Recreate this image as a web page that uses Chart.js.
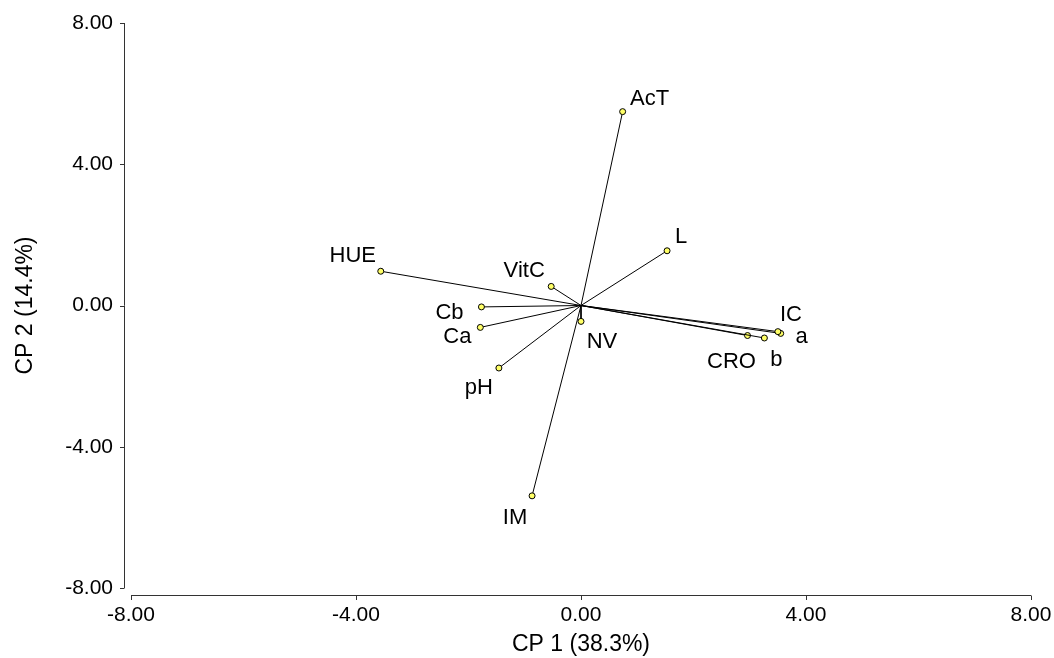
<!DOCTYPE html>
<html>
<head>
<meta charset="utf-8">
<script src="https://cdn.jsdelivr.net/npm/chart.js@4/dist/chart.umd.min.js"></script>
<style>
  html, body { margin: 0; padding: 0; background: #fff; }
  #wrap { width: 1054px; height: 658px; }
</style>
</head>
<body>
<div id="wrap"><canvas id="biplot"></canvas></div>
<script>
// variables (loadings on CP 1 / CP 2)
const varNames = ["AcT", "L", "HUE", "VitC", "Cb", "Ca", "pH", "NV", "IM", "IC", "a", "b", "CRO"];
const cp1 = [0.74, 1.53, -3.56, -0.53, -1.77, -1.79, -1.46, 0.00, -0.87, 3.50, 3.55, 3.26, 2.96];
const cp2 = [5.49, 1.55, 0.97, 0.54, -0.04, -0.62, -1.77, -0.45, -5.39, -0.74, -0.79, -0.92, -0.85];
const axisTicks = [-8, -4, 0, 4, 8];
const xTitle = "CP 1 (38.3%)";
const yTitle = "CP 2 (14.4%)";

// label placement relative to the point (px), same order as varNames
const labelOffsets = [
  [27, -7], [14, -8], [-28, -9], [-27, -9], [-32, 12], [-23, 16], [-20, 26],
  [21, 27], [-17, 28], [13, -11], [21, 10], [12, 28], [-16, 32]
];

const FONT = "'Liberation Sans', Arial, sans-serif";

/* ===================================
   DATASETS: one vector per variable
   =================================== */
const datasets = varNames.map((name, i) => ({
  label: name,
  data: [{ x: 0, y: 0 }, { x: cp1[i], y: cp2[i] }],
  showLine: true,
  borderColor: "#000",
  borderWidth: 1,
  pointRadius: [0, 3],
  pointBackgroundColor: "#ffff66",
  pointBorderColor: "#000",
  pointBorderWidth: 1,
}));

// detached axes with outside ticks
const detachedAxes = {
  id: "detachedAxes",
  afterDraw(chart) {
    const { ctx, chartArea, scales } = chart;
    const xs = scales.x, ys = scales.y;
    const ax = chartArea.left - 7;
    const ay = chartArea.bottom + 7;
    ctx.save();
    ctx.strokeStyle = "#333";
    ctx.lineWidth = 1;
    ctx.beginPath();
    ctx.moveTo(ax + 0.5, ys.getPixelForValue(axisTicks[axisTicks.length - 1]));
    ctx.lineTo(ax + 0.5, ys.getPixelForValue(axisTicks[0]));
    axisTicks.forEach(t => {
      const py = Math.round(ys.getPixelForValue(t)) + 0.5;
      ctx.moveTo(ax - 4, py);
      ctx.lineTo(ax + 0.5, py);
    });
    ctx.moveTo(xs.getPixelForValue(axisTicks[0]), ay + 0.5);
    ctx.lineTo(xs.getPixelForValue(axisTicks[axisTicks.length - 1]), ay + 0.5);
    axisTicks.forEach(t => {
      const px = Math.round(xs.getPixelForValue(t)) + 0.5;
      ctx.moveTo(px, ay + 0.5);
      ctx.lineTo(px, ay + 5);
    });
    ctx.stroke();
    ctx.restore();
  },
};

// variable names next to the vector tips
const vectorLabels = {
  id: "vectorLabels",
  afterDatasetsDraw(chart) {
    const { ctx, scales } = chart;
    ctx.save();
    ctx.fillStyle = "#000";
    ctx.font = "22px " + FONT;
    ctx.textAlign = "center";
    ctx.textBaseline = "alphabetic";
    varNames.forEach((name, i) => {
      const px = scales.x.getPixelForValue(cp1[i]);
      const py = scales.y.getPixelForValue(cp2[i]);
      ctx.fillText(name, px + labelOffsets[i][0], py + labelOffsets[i][1]);
    });
    ctx.restore();
  },
};

new Chart(document.getElementById("biplot").getContext("2d"), {
  type: "scatter",
  data: { datasets: datasets },
  options: {
    responsive: true,
    maintainAspectRatio: false,
    animation: false,
    layout: { padding: { top: 23, right: 23, left: 0, bottom: 0 } },
    plugins: {
      legend: { display: false },
      tooltip: { enabled: false },
    },
    scales: {
      x: {
        type: "linear",
        min: -8,
        max: 8,
        afterBuildTicks: s => { s.ticks = axisTicks.map(v => ({ value: v })); },
        afterFit: s => { s.height = 70; s.paddingLeft = 0; s.paddingRight = 0; },
        grid: { display: false, drawTicks: false },
        border: { display: false },
        ticks: {
          color: "#000",
          padding: 15,
          maxRotation: 0,
          font: { family: FONT, size: 21 },
          callback: v => v.toFixed(2),
        },
        title: {
          display: true,
          text: xTitle,
          color: "#000",
          padding: 0,
          font: { family: FONT, size: 23 },
        },
      },
      y: {
        type: "linear",
        min: -8,
        max: 8,
        afterBuildTicks: s => { s.ticks = axisTicks.map(v => ({ value: v })); },
        afterFit: s => { s.width = 131; s.paddingTop = 0; s.paddingBottom = 0; },
        grid: { display: false, drawTicks: false },
        border: { display: false },
        ticks: {
          color: "#000",
          padding: 18,
          font: { family: FONT, size: 21 },
          callback: v => v.toFixed(2),
        },
        title: {
          display: true,
          text: yTitle,
          color: "#000",
          padding: { top: 12, bottom: 0 },
          font: { family: FONT, size: 23 },
        },
      },
    },
  },
  plugins: [detachedAxes, vectorLabels],
});
</script>
</body>
</html>
